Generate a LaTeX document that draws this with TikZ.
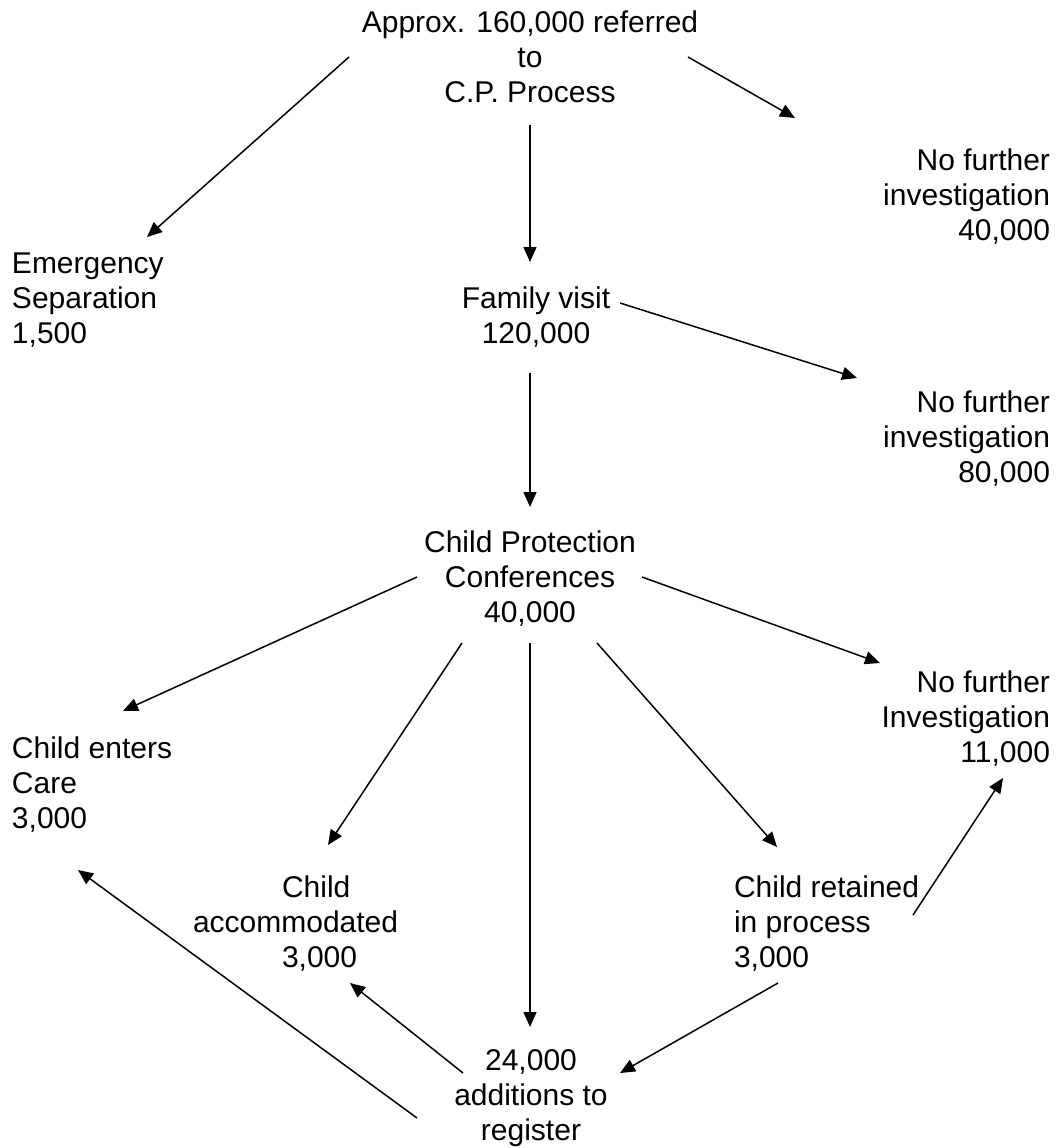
\documentclass[tikz,border=0pt]{standalone}
\usepackage{fontspec}
\setmainfont{Liberation Sans}
\usetikzlibrary{arrows.meta}
\begin{document}
\begin{tikzpicture}[x=1pt,y=-1pt,
  lbl/.style={inner sep=0pt,outer sep=0pt,font=\fontsize{30}{35}\selectfont},
  lblc/.style={lbl,align=center,anchor=base},
  lbll/.style={lbl,align=left,anchor=base west},
  lblr/.style={lbl,align=right,anchor=base east},
  arr/.style={line width=1.5pt,-{Triangle[length=15pt,width=13pt]}}]
\fill[white] (0,0) rectangle (1060,1148);
\useasboundingbox (0,0) rectangle (1060,1148);

% flow stages (each placed by the baseline of its last line)
\node[lblc] (top)  at (530,102)  {Approx. 160,000 referred\\to\\C.P. Process};
\node[lbll] (emer) at (12,343)   {Emergency\\Separation\\1,500};
\node[lblr] (nfi1) at (1050,240) {No further\\investigation\\40,000};
\node[lblc] (fam)  at (536,343)  {Family visit\\120,000};
\node[lblr] (nfi2) at (1050,482) {No further\\investigation\\80,000};
\node[lblc] (cpc)  at (530,622)  {Child Protection\\Conferences\\40,000};
\node[lblr] (nfi3) at (1050,762) {No further\\Investigation\\11,000};
\node[lbll] (care) at (12,828)   {Child enters\\Care\\3,000};
\node[lbll] (acc)  at (193,967)  {\hspace*{89pt}Child\\accommodated\\\hspace*{89pt}3,000};
\node[lbll] (ret)  at (734,967)  {Child retained\\in process\\3,000};
\node[lblc] (reg)  at (531,1140) {24,000\\additions to\\register};

% referrals
\draw[arr] ([shift={(-181,-45)}]top.base) -- ([shift={(135,-106)}]emer.base west);
\draw[arr] ([shift={(158,-45)}]top.base)  -- ([shift={(-255,-122)}]nfi1.base east);
\draw[arr] ([shift={(0,23)}]top.base)     -- ([shift={(-6,-81)}]fam.base);
% family visit
\draw[arr] ([shift={(84,-40)}]fam.base)   -- ([shift={(-193,-104)}]nfi2.base east);
\draw[arr] ([shift={(-6,30)}]fam.base)    -- ([shift={(0,-115)}]cpc.base);
% conference outcomes
\draw[arr] ([shift={(112,-45)}]cpc.base)  -- ([shift={(-170,-99)}]nfi3.base east);
\draw[arr] ([shift={(-113,-45)}]cpc.base) -- ([shift={(111,-117)}]care.base west);
\draw[arr] ([shift={(-68,21)}]cpc.base)   -- ([shift={(135,-122)}]acc.base west);
\draw[arr] ([shift={(0,21)}]cpc.base)     -- ([shift={(-1,-113)}]reg.base);
\draw[arr] ([shift={(67,21)}]cpc.base)    -- ([shift={(43,-120)}]ret.base west);
% retained in process
\draw[arr] ([shift={(179,-52)}]ret.base west) -- ([shift={(-47,16)}]nfi3.base east);
\draw[arr] ([shift={(44,16)}]ret.base west)   -- ([shift={(89,-67)}]reg.base);
% register additions
\draw[arr] ([shift={(-68,-67)}]reg.base)  -- ([shift={(157,16)}]acc.base west);
\draw[arr] ([shift={(-114,-22)}]reg.base) -- ([shift={(66,42)}]care.base west);
\end{tikzpicture}
\end{document}
